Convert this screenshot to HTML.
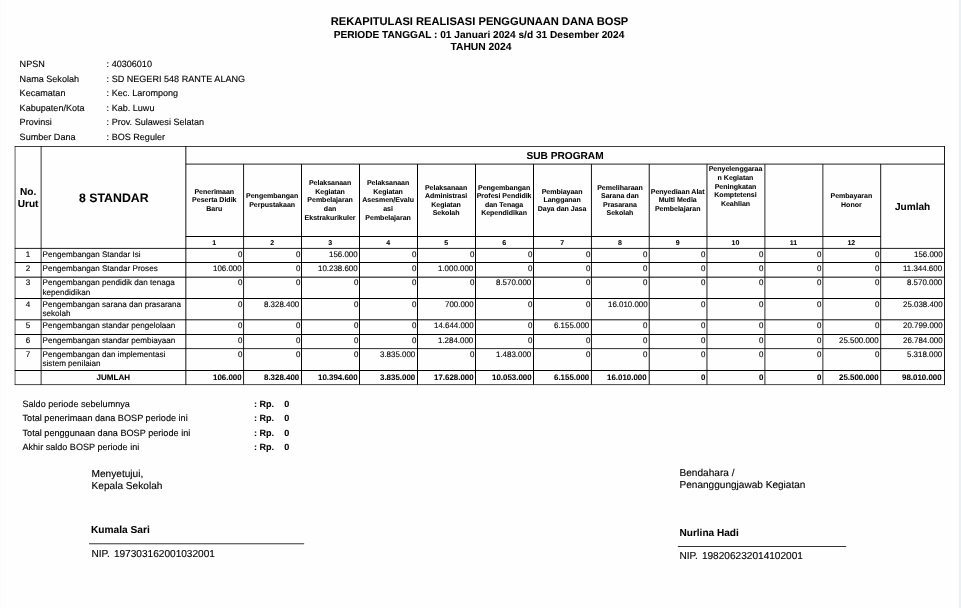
<!DOCTYPE html>
<html lang="id">
<head>
<meta charset="utf-8">
<title>Rekapitulasi Realisasi Penggunaan Dana BOSP</title>
<style>
html,body{margin:0;padding:0;background:#fff;}
body{width:961px;height:608px;overflow:hidden;position:relative;font-family:"Liberation Sans",sans-serif;color:#000;}
#sheet{position:absolute;left:0;top:0;width:961px;height:608px;overflow:hidden;background:#fefefe;}
#sheet .edge-r{position:absolute;right:0;top:0;width:2.5px;height:100%;background:#e9f1f5;}
#sheet .edge-l{position:absolute;left:0;top:0;width:1px;height:100%;background:#f9fcfe;}
.t{position:absolute;white-space:pre;margin:0;padding:0;text-rendering:geometricPrecision;-webkit-text-stroke:0.12px #000;}
.b{font-weight:bold;-webkit-text-stroke-width:0.06px;}
svg{position:absolute;left:0;top:0;}
</style>
</head>
<body>
<div id="sheet">
<div class="edge-l"></div><div class="edge-r"></div>
<svg width="961" height="608" viewBox="0 0 961 608">
<line x1="15.08" y1="146.12" x2="15.08" y2="384.96" stroke="#000" stroke-width="0.62"/>
<line x1="41.14" y1="146.12" x2="41.14" y2="384.96" stroke="#000" stroke-width="0.8"/>
<line x1="185.85" y1="146.12" x2="185.85" y2="384.96" stroke="#000" stroke-width="0.93"/>
<line x1="243.57" y1="164.10" x2="243.57" y2="384.60" stroke="#000" stroke-width="0.9"/>
<line x1="301.50" y1="164.10" x2="301.50" y2="384.60" stroke="#000" stroke-width="0.97"/>
<line x1="359.50" y1="164.10" x2="359.50" y2="384.60" stroke="#000" stroke-width="1.0"/>
<line x1="417.50" y1="164.10" x2="417.50" y2="384.60" stroke="#000" stroke-width="1.0"/>
<line x1="475.50" y1="164.10" x2="475.50" y2="384.60" stroke="#000" stroke-width="1.0"/>
<line x1="533.50" y1="164.10" x2="533.50" y2="384.60" stroke="#000" stroke-width="1.0"/>
<line x1="591.45" y1="164.10" x2="591.45" y2="384.60" stroke="#000" stroke-width="0.92"/>
<line x1="649.23" y1="164.10" x2="649.23" y2="384.60" stroke="#000" stroke-width="0.92"/>
<line x1="706.96" y1="164.10" x2="706.96" y2="384.60" stroke="#000" stroke-width="0.88"/>
<line x1="764.90" y1="164.10" x2="764.90" y2="384.60" stroke="#000" stroke-width="0.84"/>
<line x1="822.87" y1="164.10" x2="822.87" y2="384.60" stroke="#000" stroke-width="0.84"/>
<line x1="880.70" y1="164.10" x2="880.70" y2="384.60" stroke="#000" stroke-width="0.9"/>
<line x1="944.50" y1="146.12" x2="944.50" y2="384.96" stroke="#000" stroke-width="0.9"/>
<line x1="14.77" y1="146.50" x2="944.95" y2="146.50" stroke="#000" stroke-width="0.75"/>
<line x1="185.85" y1="164.10" x2="944.50" y2="164.10" stroke="#000" stroke-width="0.88"/>
<line x1="185.85" y1="236.50" x2="880.70" y2="236.50" stroke="#000" stroke-width="1.0"/>
<line x1="14.77" y1="248.40" x2="944.95" y2="248.40" stroke="#000" stroke-width="0.88"/>
<line x1="14.77" y1="262.50" x2="944.95" y2="262.50" stroke="#000" stroke-width="1.0"/>
<line x1="14.77" y1="277.17" x2="944.95" y2="277.17" stroke="#000" stroke-width="1.0"/>
<line x1="14.77" y1="298.50" x2="944.95" y2="298.50" stroke="#000" stroke-width="1.0"/>
<line x1="14.77" y1="319.80" x2="944.95" y2="319.80" stroke="#000" stroke-width="0.95"/>
<line x1="14.77" y1="334.50" x2="944.95" y2="334.50" stroke="#000" stroke-width="1.0"/>
<line x1="14.77" y1="348.60" x2="944.95" y2="348.60" stroke="#000" stroke-width="0.82"/>
<line x1="14.77" y1="370.50" x2="944.95" y2="370.50" stroke="#000" stroke-width="1.0"/>
<line x1="14.77" y1="384.60" x2="944.95" y2="384.60" stroke="#000" stroke-width="0.72"/>
<line x1="89.00" y1="543.78" x2="304.15" y2="543.78" stroke="#000" stroke-width="0.8"/>
<line x1="677.85" y1="546.50" x2="846.15" y2="546.50" stroke="#000" stroke-width="0.8"/>
</svg>
<header class="title">
<div class="t b" style="top:15px;font-size:11.14px;line-height:14px;left:279.50px;width:400px;text-align:center;">REKAPITULASI REALISASI PENGGUNAAN DANA BOSP</div>
<div class="t b" style="top:29px;font-size:10.14px;line-height:13px;left:279.00px;width:400px;text-align:center;">PERIODE TANGGAL : 01 Januari 2024 s/d 31 Desember 2024</div>
<div class="t b" style="top:41px;font-size:10.3px;line-height:13px;left:281.00px;width:400px;text-align:center;">TAHUN 2024</div>
</header>
<section class="info">
<div class="t" style="top:58px;font-size:9.07px;line-height:12px;left:19.60px;">NPSN</div>
<div class="t" style="top:58px;font-size:9.07px;line-height:12px;left:106.60px;">: 40306010</div>
<div class="t" style="top:73px;font-size:9.07px;line-height:12px;left:19.60px;">Nama Sekolah</div>
<div class="t" style="top:73px;font-size:9.07px;line-height:12px;left:106.60px;">: SD NEGERI 548 RANTE ALANG</div>
<div class="t" style="top:87px;font-size:9.07px;line-height:12px;left:19.60px;">Kecamatan</div>
<div class="t" style="top:87px;font-size:9.07px;line-height:12px;left:106.60px;">: Kec. Larompong</div>
<div class="t" style="top:102px;font-size:9.07px;line-height:12px;left:19.60px;">Kabupaten/Kota</div>
<div class="t" style="top:102px;font-size:9.07px;line-height:12px;left:106.60px;">: Kab. Luwu</div>
<div class="t" style="top:116px;font-size:9.07px;line-height:12px;left:19.60px;">Provinsi</div>
<div class="t" style="top:116px;font-size:9.07px;line-height:12px;left:106.60px;">: Prov. Sulawesi Selatan</div>
<div class="t" style="top:131px;font-size:9.07px;line-height:12px;left:19.60px;">Sumber Dana</div>
<div class="t" style="top:131px;font-size:9.07px;line-height:12px;left:106.60px;">: BOS Reguler</div>
</section>
<section class="thead">
<div class="t b" style="top:186px;font-size:10.08px;line-height:13px;left:8.11px;width:40px;text-align:center;">No.</div>
<div class="t b" style="top:198px;font-size:10.08px;line-height:13px;left:8.11px;width:40px;text-align:center;">Urut</div>
<div class="t b" style="top:190px;font-size:12.3px;line-height:16px;left:43.80px;width:140px;text-align:center;">8 STANDAR</div>
<div class="t b" style="top:150px;font-size:10.13px;line-height:13px;left:465.07px;width:200px;text-align:center;">SUB PROGRAM</div>
<div class="t b" style="top:201px;font-size:10.08px;line-height:13px;left:882.60px;width:60px;text-align:center;">Jumlah</div>
<div class="t b" style="top:188px;font-size:7.0px;line-height:9px;left:174.31px;width:80px;text-align:center;">Penerimaan</div>
<div class="t b" style="top:196px;font-size:7.0px;line-height:9px;left:174.31px;width:80px;text-align:center;">Peserta Didik</div>
<div class="t b" style="top:205px;font-size:7.0px;line-height:9px;left:174.31px;width:80px;text-align:center;">Baru</div>
<div class="t b" style="top:239px;font-size:7.0px;line-height:9px;left:194.31px;width:40px;text-align:center;">1</div>
<div class="t b" style="top:192px;font-size:7.0px;line-height:9px;left:232.13px;width:80px;text-align:center;">Pengembangan</div>
<div class="t b" style="top:201px;font-size:7.0px;line-height:9px;left:232.13px;width:80px;text-align:center;">Perpustakaan</div>
<div class="t b" style="top:239px;font-size:7.0px;line-height:9px;left:252.13px;width:40px;text-align:center;">2</div>
<div class="t b" style="top:179px;font-size:7.0px;line-height:9px;left:290.10px;width:80px;text-align:center;">Pelaksanaan</div>
<div class="t b" style="top:188px;font-size:7.0px;line-height:9px;left:290.10px;width:80px;text-align:center;">Kegiatan</div>
<div class="t b" style="top:196px;font-size:7.0px;line-height:9px;left:290.10px;width:80px;text-align:center;">Pembelajaran</div>
<div class="t b" style="top:205px;font-size:7.0px;line-height:9px;left:290.10px;width:80px;text-align:center;">dan</div>
<div class="t b" style="top:214px;font-size:7.0px;line-height:9px;left:290.10px;width:80px;text-align:center;">Ekstrakurikuler</div>
<div class="t b" style="top:239px;font-size:7.0px;line-height:9px;left:310.10px;width:40px;text-align:center;">3</div>
<div class="t b" style="top:179px;font-size:7.0px;line-height:9px;left:348.10px;width:80px;text-align:center;">Pelaksanaan</div>
<div class="t b" style="top:188px;font-size:7.0px;line-height:9px;left:348.10px;width:80px;text-align:center;">Kegiatan</div>
<div class="t b" style="top:196px;font-size:7.0px;line-height:9px;left:348.10px;width:80px;text-align:center;">Asesmen/Evalu</div>
<div class="t b" style="top:205px;font-size:7.0px;line-height:9px;left:348.10px;width:80px;text-align:center;">asi</div>
<div class="t b" style="top:214px;font-size:7.0px;line-height:9px;left:348.10px;width:80px;text-align:center;">Pembelajaran</div>
<div class="t b" style="top:239px;font-size:7.0px;line-height:9px;left:368.10px;width:40px;text-align:center;">4</div>
<div class="t b" style="top:184px;font-size:7.0px;line-height:9px;left:406.10px;width:80px;text-align:center;">Pelaksanaan</div>
<div class="t b" style="top:192px;font-size:7.0px;line-height:9px;left:406.10px;width:80px;text-align:center;">Administrasi</div>
<div class="t b" style="top:201px;font-size:7.0px;line-height:9px;left:406.10px;width:80px;text-align:center;">Kegiatan</div>
<div class="t b" style="top:209px;font-size:7.0px;line-height:9px;left:406.10px;width:80px;text-align:center;">Sekolah</div>
<div class="t b" style="top:239px;font-size:7.0px;line-height:9px;left:426.10px;width:40px;text-align:center;">5</div>
<div class="t b" style="top:184px;font-size:7.0px;line-height:9px;left:464.10px;width:80px;text-align:center;">Pengembangan</div>
<div class="t b" style="top:192px;font-size:7.0px;line-height:9px;left:464.10px;width:80px;text-align:center;">Profesi Pendidik</div>
<div class="t b" style="top:201px;font-size:7.0px;line-height:9px;left:464.10px;width:80px;text-align:center;">dan Tenaga</div>
<div class="t b" style="top:209px;font-size:7.0px;line-height:9px;left:464.10px;width:80px;text-align:center;">Kependidikan</div>
<div class="t b" style="top:239px;font-size:7.0px;line-height:9px;left:484.10px;width:40px;text-align:center;">6</div>
<div class="t b" style="top:188px;font-size:7.0px;line-height:9px;left:522.08px;width:80px;text-align:center;">Pembiayaan</div>
<div class="t b" style="top:196px;font-size:7.0px;line-height:9px;left:522.08px;width:80px;text-align:center;">Langganan</div>
<div class="t b" style="top:205px;font-size:7.0px;line-height:9px;left:522.08px;width:80px;text-align:center;">Daya dan Jasa</div>
<div class="t b" style="top:239px;font-size:7.0px;line-height:9px;left:542.08px;width:40px;text-align:center;">7</div>
<div class="t b" style="top:184px;font-size:7.0px;line-height:9px;left:579.94px;width:80px;text-align:center;">Pemeliharaan</div>
<div class="t b" style="top:192px;font-size:7.0px;line-height:9px;left:579.94px;width:80px;text-align:center;">Sarana dan</div>
<div class="t b" style="top:201px;font-size:7.0px;line-height:9px;left:579.94px;width:80px;text-align:center;">Prasarana</div>
<div class="t b" style="top:209px;font-size:7.0px;line-height:9px;left:579.94px;width:80px;text-align:center;">Sekolah</div>
<div class="t b" style="top:239px;font-size:7.0px;line-height:9px;left:599.94px;width:40px;text-align:center;">8</div>
<div class="t b" style="top:188px;font-size:7.0px;line-height:9px;left:637.70px;width:80px;text-align:center;">Penyediaan Alat</div>
<div class="t b" style="top:196px;font-size:7.0px;line-height:9px;left:637.70px;width:80px;text-align:center;">Multi Media</div>
<div class="t b" style="top:205px;font-size:7.0px;line-height:9px;left:637.70px;width:80px;text-align:center;">Pembelajaran</div>
<div class="t b" style="top:239px;font-size:7.0px;line-height:9px;left:657.70px;width:40px;text-align:center;">9</div>
<div class="t b" style="top:165px;font-size:7.0px;line-height:9px;left:695.53px;width:80px;text-align:center;">Penyelenggaraa</div>
<div class="t b" style="top:174px;font-size:7.0px;line-height:9px;left:695.53px;width:80px;text-align:center;">n Kegiatan</div>
<div class="t b" style="top:183px;font-size:7.0px;line-height:9px;left:695.53px;width:80px;text-align:center;">Peningkatan</div>
<div class="t b" style="top:191px;font-size:7.0px;line-height:9px;left:695.53px;width:80px;text-align:center;">Komptetensi</div>
<div class="t b" style="top:200px;font-size:7.0px;line-height:9px;left:695.53px;width:80px;text-align:center;">Keahlian</div>
<div class="t b" style="top:239px;font-size:7.0px;line-height:9px;left:715.53px;width:40px;text-align:center;">10</div>
<div class="t b" style="top:239px;font-size:7.0px;line-height:9px;left:773.49px;width:40px;text-align:center;">11</div>
<div class="t b" style="top:192px;font-size:7.0px;line-height:9px;left:811.39px;width:80px;text-align:center;">Pembayaran</div>
<div class="t b" style="top:201px;font-size:7.0px;line-height:9px;left:811.39px;width:80px;text-align:center;">Honor</div>
<div class="t b" style="top:239px;font-size:7.0px;line-height:9px;left:831.39px;width:40px;text-align:center;">12</div>
</section>
<section class="tbody">
<div class="t" style="top:250px;font-size:8.06px;line-height:10px;left:16.11px;width:24px;text-align:center;">1</div>
<div class="t" style="top:249px;font-size:8.1px;line-height:11px;left:42.49px;">Pengembangan Standar Isi</div>
<div class="t" style="top:250px;font-size:8.06px;line-height:10px;right:718.83px;text-align:right;transform:scaleX(0.984);transform-origin:0 50%;">0</div>
<div class="t" style="top:250px;font-size:8.06px;line-height:10px;right:660.90px;text-align:right;transform:scaleX(0.984);transform-origin:0 50%;">0</div>
<div class="t" style="top:250px;font-size:8.06px;line-height:10px;right:602.90px;text-align:right;transform:scaleX(0.984);transform-origin:0 50%;">156.000</div>
<div class="t" style="top:250px;font-size:8.06px;line-height:10px;right:544.90px;text-align:right;transform:scaleX(0.984);transform-origin:0 50%;">0</div>
<div class="t" style="top:250px;font-size:8.06px;line-height:10px;right:486.90px;text-align:right;transform:scaleX(0.984);transform-origin:0 50%;">0</div>
<div class="t" style="top:250px;font-size:8.06px;line-height:10px;right:428.90px;text-align:right;transform:scaleX(0.984);transform-origin:0 50%;">0</div>
<div class="t" style="top:250px;font-size:8.06px;line-height:10px;right:370.95px;text-align:right;transform:scaleX(0.984);transform-origin:0 50%;">0</div>
<div class="t" style="top:250px;font-size:8.06px;line-height:10px;right:313.17px;text-align:right;transform:scaleX(0.984);transform-origin:0 50%;">0</div>
<div class="t" style="top:250px;font-size:8.06px;line-height:10px;right:255.44px;text-align:right;transform:scaleX(0.984);transform-origin:0 50%;">0</div>
<div class="t" style="top:250px;font-size:8.06px;line-height:10px;right:197.50px;text-align:right;transform:scaleX(0.984);transform-origin:0 50%;">0</div>
<div class="t" style="top:250px;font-size:8.06px;line-height:10px;right:139.53px;text-align:right;transform:scaleX(0.984);transform-origin:0 50%;">0</div>
<div class="t" style="top:250px;font-size:8.06px;line-height:10px;right:81.70px;text-align:right;transform:scaleX(0.984);transform-origin:0 50%;">0</div>
<div class="t" style="top:250px;font-size:8.06px;line-height:10px;right:18.20px;text-align:right;transform:scaleX(0.984);transform-origin:0 50%;">156.000</div>
<div class="t" style="top:264px;font-size:8.06px;line-height:10px;left:16.11px;width:24px;text-align:center;">2</div>
<div class="t" style="top:263px;font-size:8.1px;line-height:11px;left:42.49px;">Pengembangan Standar Proses</div>
<div class="t" style="top:264px;font-size:8.06px;line-height:10px;right:718.83px;text-align:right;transform:scaleX(0.984);transform-origin:0 50%;">106.000</div>
<div class="t" style="top:264px;font-size:8.06px;line-height:10px;right:660.90px;text-align:right;transform:scaleX(0.984);transform-origin:0 50%;">0</div>
<div class="t" style="top:264px;font-size:8.06px;line-height:10px;right:602.90px;text-align:right;transform:scaleX(0.984);transform-origin:0 50%;">10.238.600</div>
<div class="t" style="top:264px;font-size:8.06px;line-height:10px;right:544.90px;text-align:right;transform:scaleX(0.984);transform-origin:0 50%;">0</div>
<div class="t" style="top:264px;font-size:8.06px;line-height:10px;right:486.90px;text-align:right;transform:scaleX(0.984);transform-origin:0 50%;">1.000.000</div>
<div class="t" style="top:264px;font-size:8.06px;line-height:10px;right:428.90px;text-align:right;transform:scaleX(0.984);transform-origin:0 50%;">0</div>
<div class="t" style="top:264px;font-size:8.06px;line-height:10px;right:370.95px;text-align:right;transform:scaleX(0.984);transform-origin:0 50%;">0</div>
<div class="t" style="top:264px;font-size:8.06px;line-height:10px;right:313.17px;text-align:right;transform:scaleX(0.984);transform-origin:0 50%;">0</div>
<div class="t" style="top:264px;font-size:8.06px;line-height:10px;right:255.44px;text-align:right;transform:scaleX(0.984);transform-origin:0 50%;">0</div>
<div class="t" style="top:264px;font-size:8.06px;line-height:10px;right:197.50px;text-align:right;transform:scaleX(0.984);transform-origin:0 50%;">0</div>
<div class="t" style="top:264px;font-size:8.06px;line-height:10px;right:139.53px;text-align:right;transform:scaleX(0.984);transform-origin:0 50%;">0</div>
<div class="t" style="top:264px;font-size:8.06px;line-height:10px;right:81.70px;text-align:right;transform:scaleX(0.984);transform-origin:0 50%;">0</div>
<div class="t" style="top:264px;font-size:8.06px;line-height:10px;right:18.20px;text-align:right;transform:scaleX(0.984);transform-origin:0 50%;">11.344.600</div>
<div class="t" style="top:278px;font-size:8.06px;line-height:10px;left:16.11px;width:24px;text-align:center;">3</div>
<div class="t" style="top:277px;font-size:8.1px;line-height:11px;left:42.49px;">Pengembangan pendidik dan tenaga</div>
<div class="t" style="top:287px;font-size:8.1px;line-height:11px;left:42.49px;">kependidikan</div>
<div class="t" style="top:278px;font-size:8.06px;line-height:10px;right:718.83px;text-align:right;transform:scaleX(0.984);transform-origin:0 50%;">0</div>
<div class="t" style="top:278px;font-size:8.06px;line-height:10px;right:660.90px;text-align:right;transform:scaleX(0.984);transform-origin:0 50%;">0</div>
<div class="t" style="top:278px;font-size:8.06px;line-height:10px;right:602.90px;text-align:right;transform:scaleX(0.984);transform-origin:0 50%;">0</div>
<div class="t" style="top:278px;font-size:8.06px;line-height:10px;right:544.90px;text-align:right;transform:scaleX(0.984);transform-origin:0 50%;">0</div>
<div class="t" style="top:278px;font-size:8.06px;line-height:10px;right:486.90px;text-align:right;transform:scaleX(0.984);transform-origin:0 50%;">0</div>
<div class="t" style="top:278px;font-size:8.06px;line-height:10px;right:428.90px;text-align:right;transform:scaleX(0.984);transform-origin:0 50%;">8.570.000</div>
<div class="t" style="top:278px;font-size:8.06px;line-height:10px;right:370.95px;text-align:right;transform:scaleX(0.984);transform-origin:0 50%;">0</div>
<div class="t" style="top:278px;font-size:8.06px;line-height:10px;right:313.17px;text-align:right;transform:scaleX(0.984);transform-origin:0 50%;">0</div>
<div class="t" style="top:278px;font-size:8.06px;line-height:10px;right:255.44px;text-align:right;transform:scaleX(0.984);transform-origin:0 50%;">0</div>
<div class="t" style="top:278px;font-size:8.06px;line-height:10px;right:197.50px;text-align:right;transform:scaleX(0.984);transform-origin:0 50%;">0</div>
<div class="t" style="top:278px;font-size:8.06px;line-height:10px;right:139.53px;text-align:right;transform:scaleX(0.984);transform-origin:0 50%;">0</div>
<div class="t" style="top:278px;font-size:8.06px;line-height:10px;right:81.70px;text-align:right;transform:scaleX(0.984);transform-origin:0 50%;">0</div>
<div class="t" style="top:278px;font-size:8.06px;line-height:10px;right:18.20px;text-align:right;transform:scaleX(0.984);transform-origin:0 50%;">8.570.000</div>
<div class="t" style="top:300px;font-size:8.06px;line-height:10px;left:16.11px;width:24px;text-align:center;">4</div>
<div class="t" style="top:299px;font-size:8.1px;line-height:11px;left:42.49px;">Pengembangan sarana dan prasarana</div>
<div class="t" style="top:308px;font-size:8.1px;line-height:11px;left:42.49px;">sekolah</div>
<div class="t" style="top:300px;font-size:8.06px;line-height:10px;right:718.83px;text-align:right;transform:scaleX(0.984);transform-origin:0 50%;">0</div>
<div class="t" style="top:300px;font-size:8.06px;line-height:10px;right:660.90px;text-align:right;transform:scaleX(0.984);transform-origin:0 50%;">8.328.400</div>
<div class="t" style="top:300px;font-size:8.06px;line-height:10px;right:602.90px;text-align:right;transform:scaleX(0.984);transform-origin:0 50%;">0</div>
<div class="t" style="top:300px;font-size:8.06px;line-height:10px;right:544.90px;text-align:right;transform:scaleX(0.984);transform-origin:0 50%;">0</div>
<div class="t" style="top:300px;font-size:8.06px;line-height:10px;right:486.90px;text-align:right;transform:scaleX(0.984);transform-origin:0 50%;">700.000</div>
<div class="t" style="top:300px;font-size:8.06px;line-height:10px;right:428.90px;text-align:right;transform:scaleX(0.984);transform-origin:0 50%;">0</div>
<div class="t" style="top:300px;font-size:8.06px;line-height:10px;right:370.95px;text-align:right;transform:scaleX(0.984);transform-origin:0 50%;">0</div>
<div class="t" style="top:300px;font-size:8.06px;line-height:10px;right:313.17px;text-align:right;transform:scaleX(0.984);transform-origin:0 50%;">16.010.000</div>
<div class="t" style="top:300px;font-size:8.06px;line-height:10px;right:255.44px;text-align:right;transform:scaleX(0.984);transform-origin:0 50%;">0</div>
<div class="t" style="top:300px;font-size:8.06px;line-height:10px;right:197.50px;text-align:right;transform:scaleX(0.984);transform-origin:0 50%;">0</div>
<div class="t" style="top:300px;font-size:8.06px;line-height:10px;right:139.53px;text-align:right;transform:scaleX(0.984);transform-origin:0 50%;">0</div>
<div class="t" style="top:300px;font-size:8.06px;line-height:10px;right:81.70px;text-align:right;transform:scaleX(0.984);transform-origin:0 50%;">0</div>
<div class="t" style="top:300px;font-size:8.06px;line-height:10px;right:18.20px;text-align:right;transform:scaleX(0.984);transform-origin:0 50%;">25.038.400</div>
<div class="t" style="top:321px;font-size:8.06px;line-height:10px;left:16.11px;width:24px;text-align:center;">5</div>
<div class="t" style="top:320px;font-size:8.1px;line-height:11px;left:42.49px;">Pengembangan standar pengelolaan</div>
<div class="t" style="top:321px;font-size:8.06px;line-height:10px;right:718.83px;text-align:right;transform:scaleX(0.984);transform-origin:0 50%;">0</div>
<div class="t" style="top:321px;font-size:8.06px;line-height:10px;right:660.90px;text-align:right;transform:scaleX(0.984);transform-origin:0 50%;">0</div>
<div class="t" style="top:321px;font-size:8.06px;line-height:10px;right:602.90px;text-align:right;transform:scaleX(0.984);transform-origin:0 50%;">0</div>
<div class="t" style="top:321px;font-size:8.06px;line-height:10px;right:544.90px;text-align:right;transform:scaleX(0.984);transform-origin:0 50%;">0</div>
<div class="t" style="top:321px;font-size:8.06px;line-height:10px;right:486.90px;text-align:right;transform:scaleX(0.984);transform-origin:0 50%;">14.644.000</div>
<div class="t" style="top:321px;font-size:8.06px;line-height:10px;right:428.90px;text-align:right;transform:scaleX(0.984);transform-origin:0 50%;">0</div>
<div class="t" style="top:321px;font-size:8.06px;line-height:10px;right:370.95px;text-align:right;transform:scaleX(0.984);transform-origin:0 50%;">6.155.000</div>
<div class="t" style="top:321px;font-size:8.06px;line-height:10px;right:313.17px;text-align:right;transform:scaleX(0.984);transform-origin:0 50%;">0</div>
<div class="t" style="top:321px;font-size:8.06px;line-height:10px;right:255.44px;text-align:right;transform:scaleX(0.984);transform-origin:0 50%;">0</div>
<div class="t" style="top:321px;font-size:8.06px;line-height:10px;right:197.50px;text-align:right;transform:scaleX(0.984);transform-origin:0 50%;">0</div>
<div class="t" style="top:321px;font-size:8.06px;line-height:10px;right:139.53px;text-align:right;transform:scaleX(0.984);transform-origin:0 50%;">0</div>
<div class="t" style="top:321px;font-size:8.06px;line-height:10px;right:81.70px;text-align:right;transform:scaleX(0.984);transform-origin:0 50%;">0</div>
<div class="t" style="top:321px;font-size:8.06px;line-height:10px;right:18.20px;text-align:right;transform:scaleX(0.984);transform-origin:0 50%;">20.799.000</div>
<div class="t" style="top:336px;font-size:8.06px;line-height:10px;left:16.11px;width:24px;text-align:center;">6</div>
<div class="t" style="top:335px;font-size:8.1px;line-height:11px;left:42.49px;">Pengembangan standar pembiayaan</div>
<div class="t" style="top:336px;font-size:8.06px;line-height:10px;right:718.83px;text-align:right;transform:scaleX(0.984);transform-origin:0 50%;">0</div>
<div class="t" style="top:336px;font-size:8.06px;line-height:10px;right:660.90px;text-align:right;transform:scaleX(0.984);transform-origin:0 50%;">0</div>
<div class="t" style="top:336px;font-size:8.06px;line-height:10px;right:602.90px;text-align:right;transform:scaleX(0.984);transform-origin:0 50%;">0</div>
<div class="t" style="top:336px;font-size:8.06px;line-height:10px;right:544.90px;text-align:right;transform:scaleX(0.984);transform-origin:0 50%;">0</div>
<div class="t" style="top:336px;font-size:8.06px;line-height:10px;right:486.90px;text-align:right;transform:scaleX(0.984);transform-origin:0 50%;">1.284.000</div>
<div class="t" style="top:336px;font-size:8.06px;line-height:10px;right:428.90px;text-align:right;transform:scaleX(0.984);transform-origin:0 50%;">0</div>
<div class="t" style="top:336px;font-size:8.06px;line-height:10px;right:370.95px;text-align:right;transform:scaleX(0.984);transform-origin:0 50%;">0</div>
<div class="t" style="top:336px;font-size:8.06px;line-height:10px;right:313.17px;text-align:right;transform:scaleX(0.984);transform-origin:0 50%;">0</div>
<div class="t" style="top:336px;font-size:8.06px;line-height:10px;right:255.44px;text-align:right;transform:scaleX(0.984);transform-origin:0 50%;">0</div>
<div class="t" style="top:336px;font-size:8.06px;line-height:10px;right:197.50px;text-align:right;transform:scaleX(0.984);transform-origin:0 50%;">0</div>
<div class="t" style="top:336px;font-size:8.06px;line-height:10px;right:139.53px;text-align:right;transform:scaleX(0.984);transform-origin:0 50%;">0</div>
<div class="t" style="top:336px;font-size:8.06px;line-height:10px;right:81.70px;text-align:right;transform:scaleX(0.984);transform-origin:0 50%;">25.500.000</div>
<div class="t" style="top:336px;font-size:8.06px;line-height:10px;right:18.20px;text-align:right;transform:scaleX(0.984);transform-origin:0 50%;">26.784.000</div>
<div class="t" style="top:350px;font-size:8.06px;line-height:10px;left:16.11px;width:24px;text-align:center;">7</div>
<div class="t" style="top:349px;font-size:8.1px;line-height:11px;left:42.49px;">Pengembangan dan implementasi</div>
<div class="t" style="top:358px;font-size:8.1px;line-height:11px;left:42.49px;">sistem penilaian</div>
<div class="t" style="top:350px;font-size:8.06px;line-height:10px;right:718.83px;text-align:right;transform:scaleX(0.984);transform-origin:0 50%;">0</div>
<div class="t" style="top:350px;font-size:8.06px;line-height:10px;right:660.90px;text-align:right;transform:scaleX(0.984);transform-origin:0 50%;">0</div>
<div class="t" style="top:350px;font-size:8.06px;line-height:10px;right:602.90px;text-align:right;transform:scaleX(0.984);transform-origin:0 50%;">0</div>
<div class="t" style="top:350px;font-size:8.06px;line-height:10px;right:544.90px;text-align:right;transform:scaleX(0.984);transform-origin:0 50%;">3.835.000</div>
<div class="t" style="top:350px;font-size:8.06px;line-height:10px;right:486.90px;text-align:right;transform:scaleX(0.984);transform-origin:0 50%;">0</div>
<div class="t" style="top:350px;font-size:8.06px;line-height:10px;right:428.90px;text-align:right;transform:scaleX(0.984);transform-origin:0 50%;">1.483.000</div>
<div class="t" style="top:350px;font-size:8.06px;line-height:10px;right:370.95px;text-align:right;transform:scaleX(0.984);transform-origin:0 50%;">0</div>
<div class="t" style="top:350px;font-size:8.06px;line-height:10px;right:313.17px;text-align:right;transform:scaleX(0.984);transform-origin:0 50%;">0</div>
<div class="t" style="top:350px;font-size:8.06px;line-height:10px;right:255.44px;text-align:right;transform:scaleX(0.984);transform-origin:0 50%;">0</div>
<div class="t" style="top:350px;font-size:8.06px;line-height:10px;right:197.50px;text-align:right;transform:scaleX(0.984);transform-origin:0 50%;">0</div>
<div class="t" style="top:350px;font-size:8.06px;line-height:10px;right:139.53px;text-align:right;transform:scaleX(0.984);transform-origin:0 50%;">0</div>
<div class="t" style="top:350px;font-size:8.06px;line-height:10px;right:81.70px;text-align:right;transform:scaleX(0.984);transform-origin:0 50%;">0</div>
<div class="t" style="top:350px;font-size:8.06px;line-height:10px;right:18.20px;text-align:right;transform:scaleX(0.984);transform-origin:0 50%;">5.318.000</div>
<div class="t b" style="top:373px;font-size:8.06px;line-height:10px;left:63.30px;width:100px;text-align:center;">JUMLAH</div>
<div class="t b" style="top:373px;font-size:8.06px;line-height:10px;right:718.93px;text-align:right;transform:scaleX(0.984);transform-origin:0 50%;">106.000</div>
<div class="t b" style="top:373px;font-size:8.06px;line-height:10px;right:661.00px;text-align:right;transform:scaleX(0.984);transform-origin:0 50%;">8.328.400</div>
<div class="t b" style="top:373px;font-size:8.06px;line-height:10px;right:603.00px;text-align:right;transform:scaleX(0.984);transform-origin:0 50%;">10.394.600</div>
<div class="t b" style="top:373px;font-size:8.06px;line-height:10px;right:545.00px;text-align:right;transform:scaleX(0.984);transform-origin:0 50%;">3.835.000</div>
<div class="t b" style="top:373px;font-size:8.06px;line-height:10px;right:487.00px;text-align:right;transform:scaleX(0.984);transform-origin:0 50%;">17.628.000</div>
<div class="t b" style="top:373px;font-size:8.06px;line-height:10px;right:429.00px;text-align:right;transform:scaleX(0.984);transform-origin:0 50%;">10.053.000</div>
<div class="t b" style="top:373px;font-size:8.06px;line-height:10px;right:371.05px;text-align:right;transform:scaleX(0.984);transform-origin:0 50%;">6.155.000</div>
<div class="t b" style="top:373px;font-size:8.06px;line-height:10px;right:313.27px;text-align:right;transform:scaleX(0.984);transform-origin:0 50%;">16.010.000</div>
<div class="t b" style="top:373px;font-size:8.06px;line-height:10px;right:255.54px;text-align:right;transform:scaleX(0.984);transform-origin:0 50%;">0</div>
<div class="t b" style="top:373px;font-size:8.06px;line-height:10px;right:197.60px;text-align:right;transform:scaleX(0.984);transform-origin:0 50%;">0</div>
<div class="t b" style="top:373px;font-size:8.06px;line-height:10px;right:139.63px;text-align:right;transform:scaleX(0.984);transform-origin:0 50%;">0</div>
<div class="t b" style="top:373px;font-size:8.06px;line-height:10px;right:81.80px;text-align:right;transform:scaleX(0.984);transform-origin:0 50%;">25.500.000</div>
<div class="t b" style="top:373px;font-size:8.06px;line-height:10px;right:18.30px;text-align:right;transform:scaleX(0.984);transform-origin:0 50%;">98.010.000</div>
</section>
<section class="summary">
<div class="t" style="top:398px;font-size:9.07px;line-height:12px;left:22.50px;">Saldo periode sebelumnya</div>
<div class="t b" style="top:398px;font-size:9.07px;line-height:12px;left:254.00px;">: Rp.</div>
<div class="t b" style="top:398px;font-size:9.07px;line-height:12px;left:284.20px;">0</div>
<div class="t" style="top:412px;font-size:9.15px;line-height:12px;left:22.50px;">Total penerimaan dana BOSP periode ini</div>
<div class="t b" style="top:412px;font-size:9.07px;line-height:12px;left:254.00px;">: Rp.</div>
<div class="t b" style="top:412px;font-size:9.07px;line-height:12px;left:284.20px;">0</div>
<div class="t" style="top:427px;font-size:9.13px;line-height:12px;left:22.50px;">Total penggunaan dana BOSP periode ini</div>
<div class="t b" style="top:427px;font-size:9.07px;line-height:12px;left:254.00px;">: Rp.</div>
<div class="t b" style="top:427px;font-size:9.07px;line-height:12px;left:284.20px;">0</div>
<div class="t" style="top:441px;font-size:9.07px;line-height:12px;left:22.50px;">Akhir saldo BOSP periode ini</div>
<div class="t b" style="top:441px;font-size:9.07px;line-height:12px;left:254.00px;">: Rp.</div>
<div class="t b" style="top:441px;font-size:9.07px;line-height:12px;left:284.20px;">0</div>
</section>
<footer class="sign">
<div class="t" style="top:468px;font-size:10.15px;line-height:13px;left:91.50px;">Menyetujui,</div>
<div class="t" style="top:480px;font-size:10.15px;line-height:13px;left:91.50px;">Kepala Sekolah</div>
<div class="t b" style="top:524px;font-size:10.17px;line-height:13px;left:91.00px;">Kumala Sari</div>
<div class="t" style="top:548px;font-size:10.1px;line-height:13px;word-spacing:1.25px;left:91.50px;">NIP. 197303162001032001</div>
<div class="t" style="top:467px;font-size:10.1px;line-height:13px;left:679.50px;">Bendahara /</div>
<div class="t" style="top:479px;font-size:10.07px;line-height:13px;left:679.50px;">Penanggungjawab Kegiatan</div>
<div class="t b" style="top:527px;font-size:10.06px;line-height:13px;left:679.50px;">Nurlina Hadi</div>
<div class="t" style="top:550px;font-size:10.1px;line-height:13px;word-spacing:1.25px;left:679.50px;">NIP. 198206232014102001</div>
</footer>
</div>
</body>
</html>
